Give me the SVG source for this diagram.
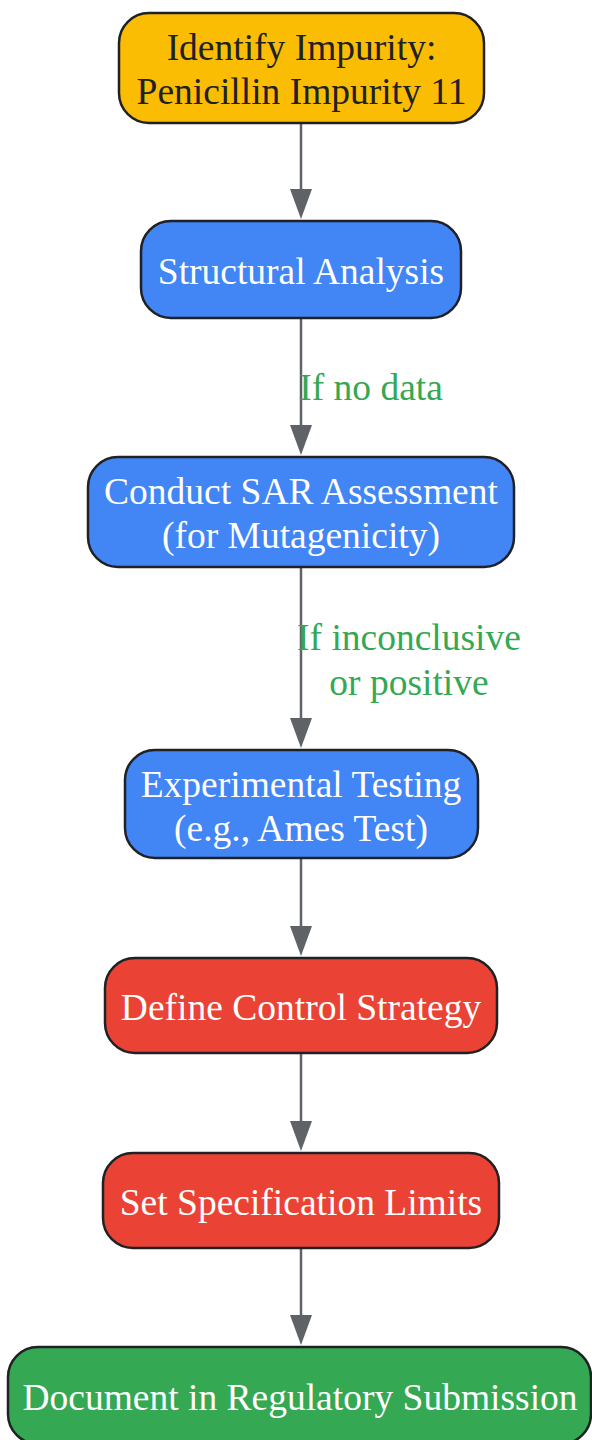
<svg xmlns="http://www.w3.org/2000/svg" width="592" height="1440" viewBox="0 0 592 1440">
<style>
.node rect{stroke:#202124;stroke-width:2.5}
.node text{font-family:"Liberation Serif","Times New Roman",serif;font-size:37.5px;text-anchor:middle}
.yellow rect{fill:#FBBC04}
.yellow text{fill:#202124}
.blue rect{fill:#4285F4}
.red rect{fill:#EA4335}
.green rect{fill:#34A853}
.light text{fill:#FFFFFF}
.edge{stroke:#5F6368;stroke-width:2.5;fill:none;marker-end:url(#arrow)}
.elabel{font-family:"Liberation Serif","Times New Roman",serif;font-size:37.5px;fill:#34A853;text-anchor:middle}
</style>
<defs>
<marker id="arrow" viewBox="0 0 30 22" refX="2" refY="11" markerWidth="30" markerHeight="22" markerUnits="userSpaceOnUse" orient="auto">
<path d="M0,0 L30,11 L0,22 z" fill="#5F6368"/>
</marker>
</defs>
<rect width="592" height="1440" fill="#FFFFFF"/>
<g id="connectors">
<path class="edge" d="M301,123 V191"/>
<path class="edge" d="M301,318 V427"/>
<path class="edge" d="M301,567 V720"/>
<path class="edge" d="M301,858 V928"/>
<path class="edge" d="M301,1053 V1123"/>
<path class="edge" d="M301,1248 V1317"/>
<text class="elabel" x="371" y="400">If no data</text>
<text class="elabel" x="409" y="650">If inconclusive</text>
<text class="elabel" x="409" y="695">or positive</text>
</g>
<g id="identify" class="node yellow">
<rect x="119" y="13" width="365" height="110" rx="30"/>
<text x="301.5" y="60">Identify Impurity:</text>
<text x="301.5" y="104">Penicillin Impurity 11</text>
</g>
<g id="structural" class="node blue light">
<rect x="141" y="221" width="320" height="97" rx="30"/>
<text x="301" y="284">Structural Analysis</text>
</g>
<g id="sar" class="node blue light">
<rect x="88" y="457" width="426" height="110" rx="30"/>
<text x="301" y="504">Conduct SAR Assessment</text>
<text x="301" y="548">(for Mutagenicity)</text>
</g>
<g id="experimental" class="node blue light">
<rect x="125" y="750" width="353" height="108" rx="30"/>
<text x="301" y="797">Experimental Testing</text>
<text x="301" y="841">(e.g., Ames Test)</text>
</g>
<g id="control" class="node red light">
<rect x="105" y="958" width="392" height="95" rx="30"/>
<text x="301" y="1020">Define Control Strategy</text>
</g>
<g id="limits" class="node red light">
<rect x="103" y="1153" width="396" height="95" rx="30"/>
<text x="301" y="1215">Set Specification Limits</text>
</g>
<g id="document" class="node green light">
<rect x="8" y="1347" width="583" height="97" rx="30"/>
<text x="300" y="1410">Document in Regulatory Submission</text>
</g>
</svg>
